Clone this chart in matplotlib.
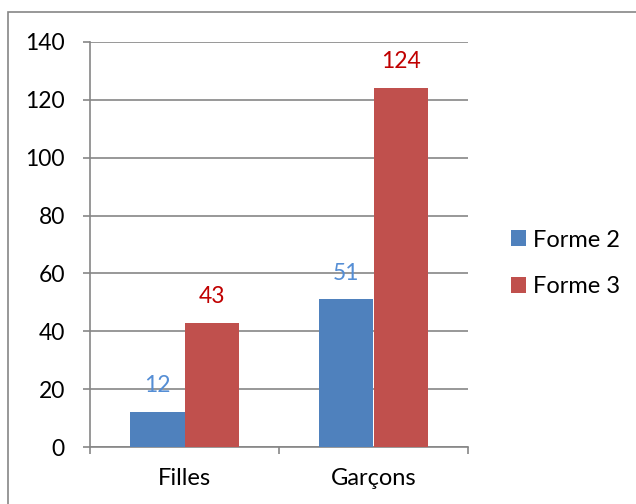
import matplotlib
matplotlib.use("Agg")
import matplotlib.pyplot as plt
from matplotlib.patches import Rectangle
import numpy as np

categories = ["Filles", "Garçons"]
series_names = ["Forme 2", "Forme 3"]
forme2 = [12, 51]
forme3 = [43, 124]
yticks = [0, 20, 40, 60, 80, 100, 120, 140]

plt.rcParams['font.family'] = ['Lato', 'DejaVu Sans']

W, H = 636, 504
fig = plt.figure(figsize=(W/100, H/100), dpi=100)
fig.patch.set_facecolor('white')

# outer frame
fig.add_artist(Rectangle((8/W, -0.05), 1.2, (504-12)/H + 0.05, transform=fig.transFigure,
                         fill=False, edgecolor='#868686', linewidth=1.2))

ax = fig.add_axes([90/W, 57/H, (468-90)/W, (447-42)/H])
x = np.arange(len(categories))
bw = 0.286
c_blue = '#4F81BD'
c_red = '#C0504D'
b1 = ax.bar(x - bw/2, forme2, bw, color=c_blue, label=series_names[0], zorder=3)
b2 = ax.bar(x + bw/2, forme3, bw, color=c_red, label=series_names[1], zorder=3)

ax.set_ylim(0, 140)
ax.set_xlim(-0.5, 1.5)
ax.set_yticks(yticks)
ax.yaxis.grid(True, color='#868686', linewidth=1.2, zorder=0)
ax.set_axisbelow(True)
for s in ['top', 'right']:
    ax.spines[s].set_visible(False)
for s in ['left', 'bottom']:
    ax.spines[s].set_color('#868686')
    ax.spines[s].set_linewidth(1.2)

ax.tick_params(axis='y', length=5, width=1.2, color='#868686', labelsize=16.5, pad=13, labelcolor='black')
ax.set_xticks(x)
ax.set_xticklabels(categories, fontsize=17)
ax.tick_params(axis='x', length=0, pad=15)
# category boundary ticks
ax.set_xticks([-0.5, 0.5, 1.5], minor=True)
ax.tick_params(axis='x', which='minor', length=5, width=1.2, color='#868686')

for bars, vals, col in [(b1, forme2, '#558ED5'), (b2, forme3, '#C00000')]:
    for rect, v in zip(bars, vals):
        ax.annotate(str(v), (rect.get_x() + rect.get_width()/2, v),
                    xytext=(0, 19), textcoords='offset points',
                    ha='center', va='center', color=col, fontsize=16.5)

leg = fig.legend(handles=[b1, b2], labels=series_names, loc='center left',
                 bbox_to_anchor=(511/W, 1 - 263.5/H), frameon=False, fontsize=17,
                 handlelength=0.65, handleheight=0.65, handletextpad=0.3,
                 labelspacing=1.1, borderaxespad=0, borderpad=0)

fig.savefig("out.png", dpi=100, facecolor='white')
